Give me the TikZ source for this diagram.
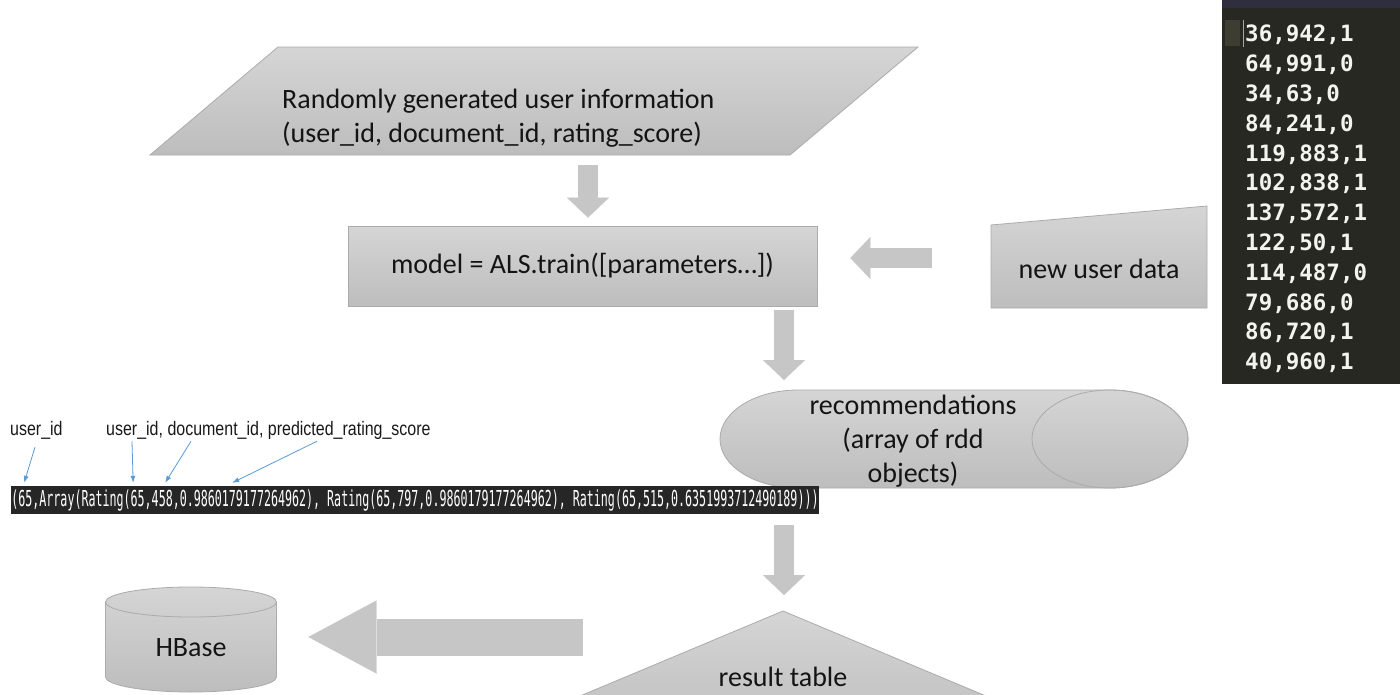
\documentclass[tikz,border=0pt]{standalone}
\usepackage{fontspec}
\setmainfont{Carlito}
\newfontfamily\labelfont[FakeStretch=0.82]{Liberation Sans}
\newfontfamily\logfont[FakeStretch=0.53]{DejaVu Sans Mono}
\newfontfamily\datafont{DejaVu Sans Mono}
\usetikzlibrary{arrows.meta,calc}

\definecolor{shapetop}{HTML}{D5D5D5}
\definecolor{shapebot}{HTML}{BDBDBD}
\definecolor{shapeline}{HTML}{ABABAB}
\definecolor{flowgray}{HTML}{C6C6C6}
\definecolor{noteblue}{HTML}{5B9BD5}
\definecolor{termbg}{HTML}{272822}
\definecolor{termbar}{HTML}{2E2E3E}
\definecolor{termgutter}{HTML}{3E3D32}
\definecolor{termtext}{HTML}{F4F4EE}
\definecolor{logbg}{HTML}{262626}

\tikzset{
  shapebox/.style={top color=shapetop, bottom color=shapebot, draw=shapeline, line width=0.8pt},
  capline/.style={draw=shapeline, line width=0.8pt},
  caption/.style={font=\fontsize{28}{34}\selectfont, text=black!92, inner sep=0pt, align=center},
  flow/.style={draw=flowgray, line width=20pt,
    -{Triangle[width=42pt,length=20pt,line width=0.01pt]}},
  bigflow/.style={draw=flowgray, line width=37pt,
    -{Triangle[width=73pt,length=68pt,line width=0.01pt]}},
  notelabel/.style={font=\labelfont\fontsize{19.5}{22}\selectfont, text=black!90, inner sep=0pt},
  notearrow/.style={draw=noteblue, line width=0.8pt, -{Latex[length=7pt,width=5pt]}},
  logbox/.style={fill=logbg, text=white, font=\logfont\fontsize{22}{26}\selectfont,
    minimum width=800pt, minimum height=28pt, inner sep=0pt},
  datatext/.style={font=\datafont\bfseries\fontsize{22.5}{29.8}\selectfont, text=termtext,
    inner sep=0pt, align=left}
}

\begin{document}
\begin{tikzpicture}[x=1pt,y=-1pt]
\useasboundingbox (0,0) rectangle (1400,694);
\clip (0,0) rectangle (1400,694);
\fill[white] (0,0) rectangle (1400,694);

% --- input records (parallelogram)
\path[shapebox] (278,47) -- (918,47) -- (790,155) -- (150,155) -- cycle;
\coordinate (info-s) at (588,155);
\node[caption, align=left, anchor=west] (info) at (282,118)
  {Randomly generated user information\\(user\_id, document\_id, rating\_score)};

% --- training step
\node[shapebox, caption, minimum width=469pt, minimum height=80pt] (train) at (582.5,266)
  {model = ALS.train([parameters…])};

% --- new user data (manual input)
\path[shapebox] (991,225) -- (1207,206) -- (1207,308) -- (991,308) -- cycle;
\coordinate (nd-w) at (991,258);
\node[caption] (newdata) at (1099,269) {new user data};

% --- recommendations (horizontal cylinder)
\path[shapebox] (798,390) arc[start angle=270, end angle=90, x radius=78, y radius=49]
  -- (1110,488) arc[start angle=90, end angle=-90, x radius=78, y radius=49] -- cycle;
\draw[capline] (1110,439) ellipse[x radius=78, y radius=49];
\coordinate (recs-n) at (784,390);
\coordinate (recs-s) at (784,488);
\node[caption] (recs) at (913,441) {recommendations\\(array of rdd\\objects)};

% --- result table (triangle, cut by the page edge)
\path[shapebox] (783,611) -- (1091,740) -- (475,740) -- cycle;
\coordinate (res-n) at (783,611);
\coordinate (res-w) at (583,637);
\node[caption] (result) at (783,677) {result table};

% --- HBase store (cylinder)
\path[shapebox] (105.5,602) -- (105.5,677)
  arc[start angle=180, end angle=0, x radius=85.5, y radius=15]
  -- (276.5,602) arc[start angle=0, end angle=-180, x radius=85.5, y radius=15] -- cycle;
\draw[capline] (105.5,602) arc[start angle=180, end angle=0, x radius=85.5, y radius=15];
\coordinate (hb-e) at (276.5,637);
\node[caption] (hbase) at (191,648) {HBase};

% --- flow arrows
\draw[flow, shorten <=10pt, shorten >=8pt] (info-s) -- (info-s |- train.north);
\draw[flow, shorten <=59pt, shorten >=33pt] (nd-w) -- (train.east |- nd-w);
\draw[flow, shorten <=4pt, shorten >=10pt] (train.south -| recs-n) -- (recs-n);
\draw[flow, shorten <=37pt, shorten >=16pt] (recs-s) -- (recs-s |- res-n);
\draw[bigflow, shorten >=32pt] (res-w) -- (hb-e);

% --- sample of the prediction output
\node[logbox] (log) at (415,500)
  {(65,Array(Rating(65,458,0.9860179177264962), Rating(65,797,0.9860179177264962), Rating(65,515,0.6351993712490189)))};
\node[notelabel, anchor=base west] (uid) at (10,435) {user\_id};
\node[notelabel, anchor=base west] (fields) at (106,435) {user\_id, document\_id, predicted\_rating\_score};
\draw[notearrow] ($(uid.south west)+(25,8)$) -- ($(log.north west)+(13,-3)$);
\draw[notearrow] ($(fields.south west)+(26,2)$) -- ($(log.north west)+(122,-3)$);
\draw[notearrow] ($(fields.south west)+(85,2)$) -- ($(log.north west)+(154,-3)$);
\draw[notearrow] ($(fields.south west)+(211,2)$) -- ($(log.north west)+(221,-3)$);

% --- raw user data file shown in an editor
\fill[termbg] (1222,0) rectangle (1400,384);
\fill[termbar] (1222,0) rectangle (1400,8);
\fill[termgutter] (1225,20) rectangle (1240,46);
\draw[gray!70, line width=1pt] (1243,20) -- (1243,47);
\node[datatext, anchor=north west] (data) at (1245,25)
  {36,942,1\\64,991,0\\34,63,0\\84,241,0\\119,883,1\\102,838,1\\137,572,1\\122,50,1\\114,487,0\\79,686,0\\86,720,1\\40,960,1};
\end{tikzpicture}
\end{document}
